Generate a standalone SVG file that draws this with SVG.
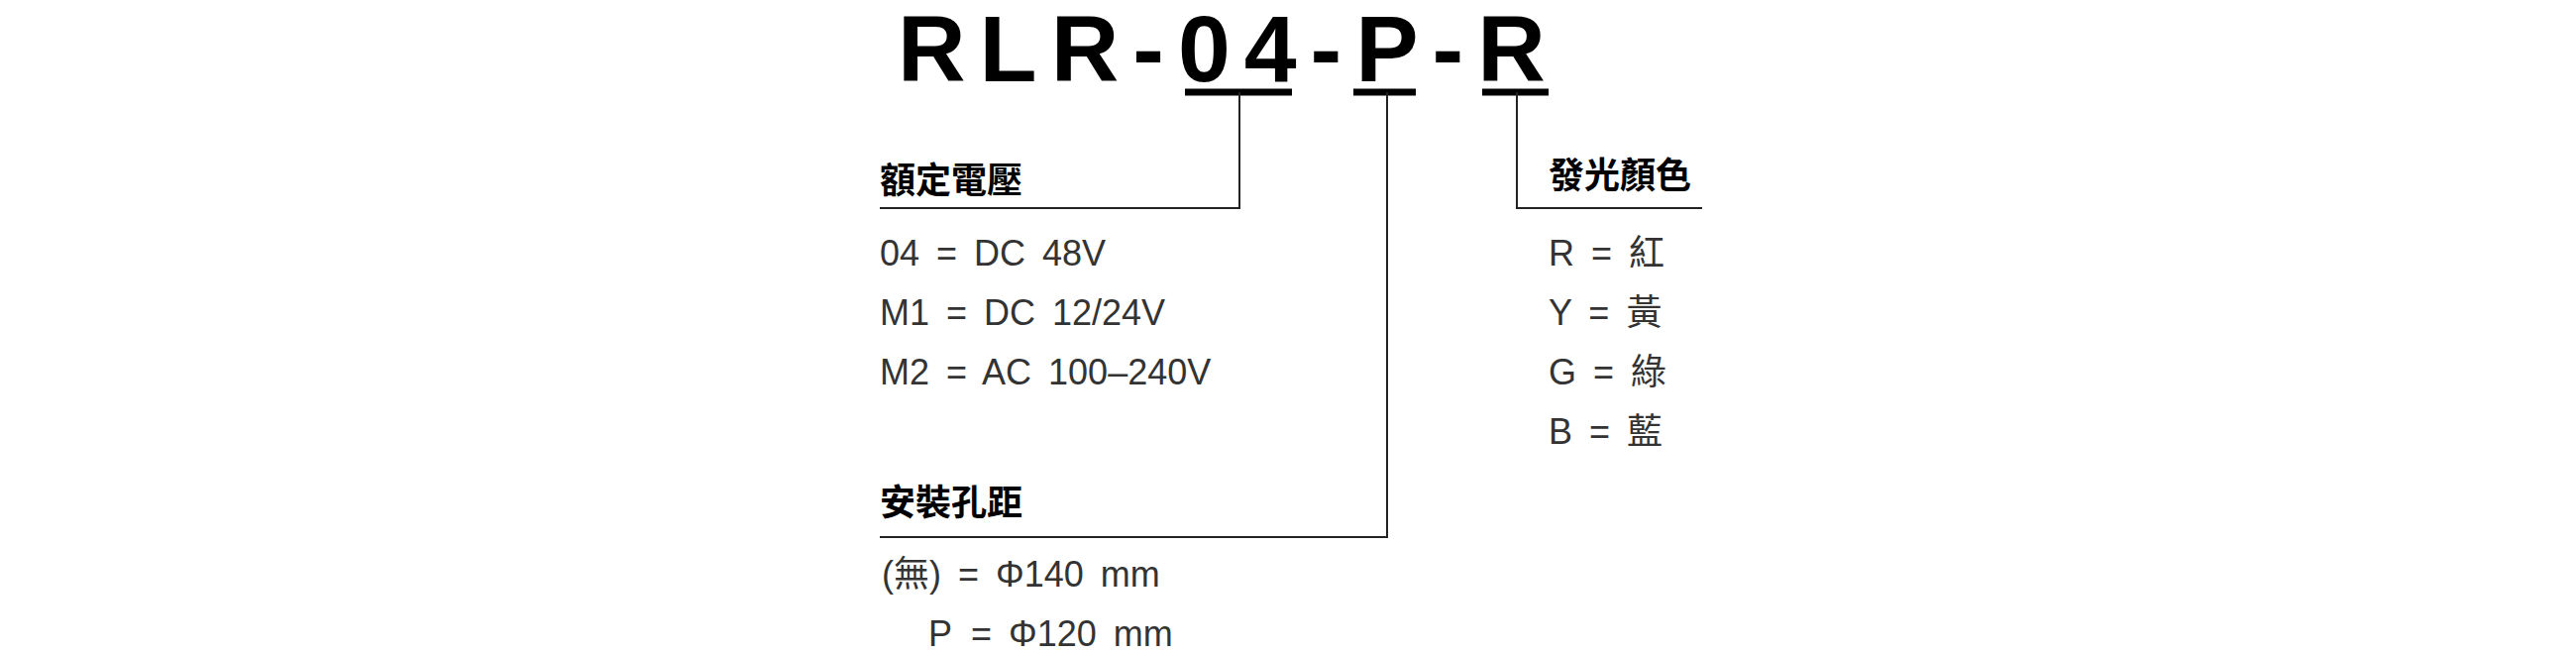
<svg xmlns="http://www.w3.org/2000/svg" width="2600" height="660" viewBox="0 0 2600 660">
<style>
.t{font-family:"Liberation Sans","Noto Sans CJK TC",sans-serif;font-weight:bold;font-size:95px;fill:#000;letter-spacing:14px}
.h{font-family:"Noto Sans CJK TC",sans-serif;font-weight:bold;font-size:36px;fill:#000}
.i{font-family:"Liberation Sans","Noto Sans CJK TC",sans-serif;font-size:36px;fill:#333;word-spacing:7px}
.ln{stroke:#222;stroke-width:2;fill:none}
.bar{stroke:#000;stroke-width:7}
</style>
<rect width="2600" height="660" fill="#fff"/>
<g id="title"><text class="t" x="906" y="82">RLR-04-P-R</text></g>
<g id="connectors">
<line class="bar" x1="1196" y1="93" x2="1304" y2="93"/>
<line class="bar" x1="1366" y1="93" x2="1429" y2="93"/>
<line class="bar" x1="1496" y1="93" x2="1563" y2="93"/>
<polyline class="ln" points="1251,93 1251,210 888,210"/>
<polyline class="ln" points="1400,93 1400,542 888,542"/>
<polyline class="ln" points="1531,93 1531,210 1718,210"/>
</g>
<g id="voltage">
<text class="h" x="888" y="195">額定電壓</text>
<text class="i" x="888" y="268">04 = DC 48V</text>
<text class="i" x="888" y="328">M1 = DC 12/24V</text>
<text class="i" x="888" y="388">M2 = AC 100–240V</text>
</g>
<g id="mount">
<text class="h" x="888" y="520">安裝孔距</text>
<text class="i" x="890" y="592">(無) = Φ140 mm</text>
<text class="i" x="937" y="652">P</text>
<text class="i" x="980" y="652">= Φ120 mm</text>
</g>
<g id="color">
<text class="h" x="1563" y="190">發光顏色</text>
<text class="i" x="1563" y="268">R = 紅</text>
<text class="i" x="1563" y="328">Y = 黃</text>
<text class="i" x="1563" y="388">G = 綠</text>
<text class="i" x="1563" y="448">B = 藍</text>
</g>
</svg>
